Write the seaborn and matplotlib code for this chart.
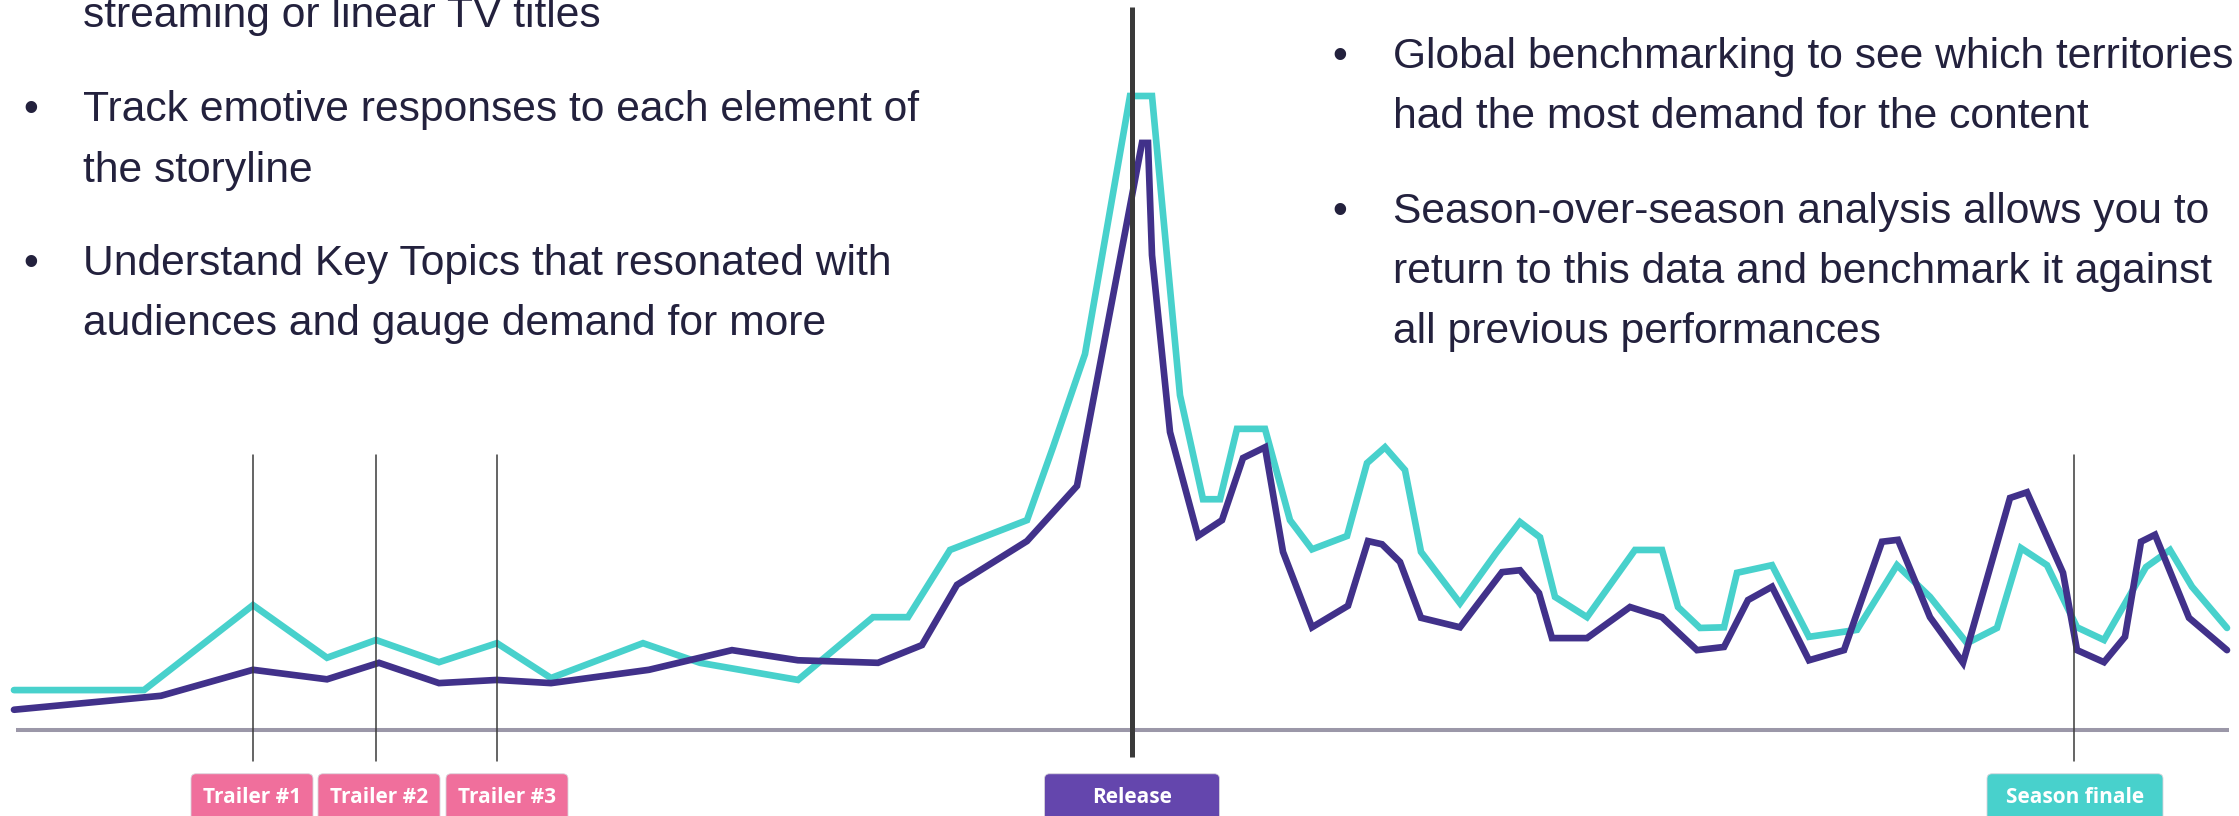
import matplotlib
matplotlib.use("Agg")
import matplotlib.pyplot as plt
from matplotlib.patches import FancyBboxPatch
import seaborn as sns
import pandas as pd

# demand series (x = day, y = demand index, peak = 100)
teal_day = [0.0, 6.5, 11.95, 15.65, 18.1, 21.25, 24.15, 26.85, 31.45, 34.3, 39.2, 42.95, 44.7,
            46.8, 50.65, 51.95, 53.55, 55.8, 56.9, 58.3, 59.45, 60.3, 61.15, 62.55, 63.8, 64.9,
            66.65, 67.65, 68.55, 69.55, 70.35, 72.3, 74.1, 75.3, 76.3, 77.05, 78.65, 81.05,
            82.4, 83.2, 84.3, 85.5, 86.15, 87.9, 89.75, 92.15, 94.15, 95.8, 97.65, 99.15,
            100.35, 101.65, 103.15, 104.5, 106.6, 107.8, 108.9, 110.65]
teal_demand = [6.3, 6.3, 19.7, 11.4, 14.2, 10.7, 13.7, 8.2, 13.7, 10.6, 7.9, 17.8, 17.8,
               28.4, 33.1, 44.6, 59.3, 100.0, 100.0, 52.8, 36.4, 36.4, 47.5, 47.5, 33.1, 28.5,
               30.6, 42.1, 44.6, 41.0, 28.1, 20.0, 27.9, 32.8, 30.4, 21.0, 17.8, 28.4,
               28.4, 19.4, 16.1, 16.2, 24.8, 26.0, 14.7, 15.8, 26.0, 21.0, 13.7, 16.1,
               28.7, 26.0, 16.2, 14.2, 25.7, 28.4, 22.6, 16.1]

purple_day = [0.0, 7.35, 11.95, 15.65, 18.25, 21.25, 24.15, 26.85, 31.75, 35.9, 39.2, 43.2,
              45.4, 47.15, 50.65, 53.15, 56.4, 56.7, 56.9, 57.8, 59.2, 60.4, 61.45, 62.55,
              63.45, 64.9, 66.7, 67.7, 68.4, 69.3, 70.35, 72.3, 74.4, 75.3, 76.25, 76.9,
              78.65, 80.8, 82.4, 84.15, 85.5, 86.7, 87.9, 89.75, 91.5, 93.4, 94.2, 95.8,
              97.45, 99.8, 100.65, 102.45, 103.15, 104.5, 105.55, 106.35, 107.05, 108.75, 110.65]
purple_demand = [3.2, 5.4, 9.5, 8.0, 10.6, 7.4, 7.9, 7.4, 9.5, 12.6, 11.0, 10.6,
                 13.4, 22.9, 29.8, 38.5, 92.6, 92.6, 74.9, 47.0, 30.6, 33.1, 42.9, 44.6,
                 28.1, 16.2, 19.6, 29.8, 29.3, 26.5, 17.7, 16.2, 24.9, 25.2, 21.6, 14.5,
                 14.5, 19.4, 17.8, 12.6, 13.1, 20.5, 22.6, 11.0, 12.6, 29.7, 30.0, 17.8,
                 10.6, 36.6, 37.5, 24.8, 12.6, 10.7, 14.7, 29.7, 30.8, 17.7, 12.6]

event_names = ["Trailer #1", "Trailer #2", "Trailer #3", "Release", "Season finale"]
event_day = [11.95, 18.1, 24.15, 55.9, 103.0]

left_lines = ["streaming or linear TV titles",
              "Track emotive responses to each element of",
              "the storyline",
              "Understand Key Topics that resonated with",
              "audiences and gauge demand for more"]
right_lines = ["Global benchmarking to see which territories",
               "had the most demand for the content",
               "Season-over-season analysis allows you to",
               "return to this data and benchmark it against",
               "all previous performances"]

TEAL = "#48d1cc"
PURPLE = "#41318a"
TEXT = "#23213d"

df = pd.concat([
    pd.DataFrame({"day": teal_day, "demand": teal_demand, "series": "teal"}),
    pd.DataFrame({"day": purple_day, "demand": purple_demand, "series": "purple"}),
])

sns.set_style("white")
plt.rcParams["font.family"] = ["Liberation Sans", "DejaVu Sans"]

W, H = 2239, 816
fig = plt.figure(figsize=(W / 100, H / 100), dpi=100)
ax = fig.add_axes([0, 0, 1, 1])
ax.set_xlim(-0.7, 111.25)
ax.set_ylim(-13.56, 115.14)
ax.axis("off")

# baseline
ax.plot([min(teal_day) + 0.1, max(teal_day) + 0.1], [0, 0], color="#9b97a8", lw=2.9,
        solid_capstyle="butt", zorder=1)

sns.lineplot(data=df, x="day", y="demand", hue="series",
             palette={"teal": TEAL, "purple": PURPLE}, sort=False, estimator=None,
             linewidth=4.8, legend=False, ax=ax, zorder=2)
for ln in ax.lines[1:]:
    ln.set_solid_joinstyle("miter")

# event markers
for name, d in zip(event_names, event_day):
    if name == "Release":
        ax.plot([d, d], [-4.3, 114.0], color="#3a3a3a", lw=3.6, zorder=4,
                solid_capstyle="butt")
    else:
        ax.plot([d, d], [-4.9, 43.4], color="#3a3a3a", lw=1.1, zorder=4)

label_center = [11.9, 18.25, 24.65, 55.9, 103.05]
label_width = [6.1, 6.1, 6.1, 8.75, 8.8]
label_color = ["#f06f9c", "#f06f9c", "#f06f9c", "#6446ad", TEAL]
for name, c, w, col in zip(event_names, label_center, label_width, label_color):
    box = FancyBboxPatch((c - w / 2, -16), w, 9.1,
                         boxstyle="round,pad=0,rounding_size=0.25",
                         mutation_aspect=20 / 6.34, fc=col, ec="#d8d4dc", lw=0.6,
                         zorder=5)
    ax.add_patch(box)
    ax.text(c, -10.6, name, ha="center", va="center", color="white",
            fontsize=15, fontweight="bold", family=["Open Sans", "DejaVu Sans"],
            zorder=6)

# bullet text
def put(x, y, s, **kw):
    fig.text(x / W, 1 - y / H, s, color=TEXT, fontsize=30.7, va="baseline", **kw)

left_base = [27, 121, 182, 275, 335]
for s, y in zip(left_lines, left_base):
    put(83, y, s)
for y in (left_base[1], left_base[3]):
    put(31, y, "\u2022", ha="center")

right_base = [68, 128, 223, 283, 343]
for s, y in zip(right_lines, right_base):
    put(1393, y, s)
for y in (right_base[0], right_base[2]):
    put(1340, y, "\u2022", ha="center")

fig.savefig("out.png", dpi=100, facecolor="white")
